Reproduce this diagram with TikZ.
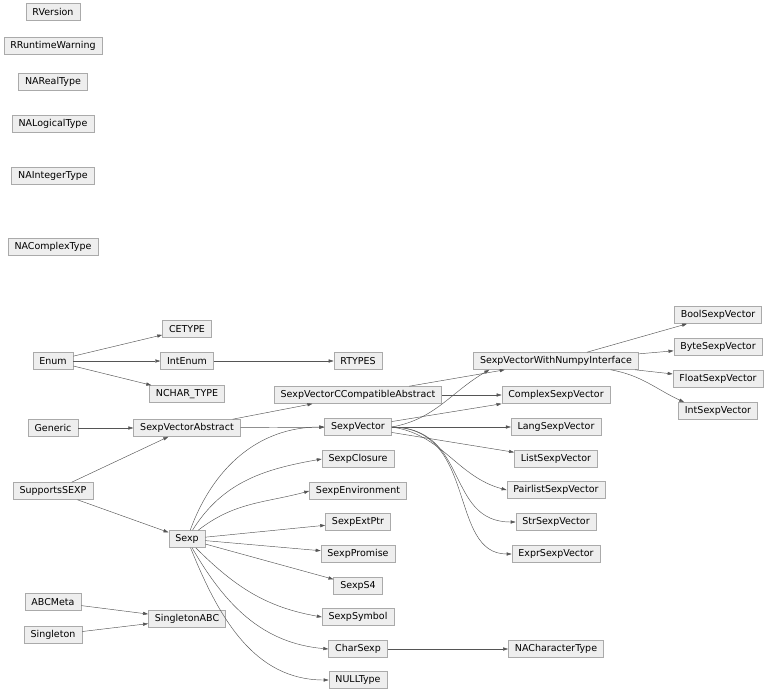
\documentclass[tikz,border=0pt]{standalone}
\usepackage{fontspec}
\setmainfont{DejaVu Sans}
\usetikzlibrary{arrows.meta}
\definecolor{boxfill}{RGB}{238,238,238}
\definecolor{boxline}{RGB}{170,170,170}
\definecolor{edgeline}{RGB}{85,85,85}
\tikzset{%
  cls/.style={draw=boxline,fill=boxfill,line width=0.6pt,inner xsep=6.5pt,
    minimum height=17pt,font=\fontsize{9.5}{11}\selectfont},
  inh/.style={draw=edgeline,line width=0.45pt,
    -{Triangle[length=5pt,width=3.2pt]}},
}
\begin{document}
\begin{tikzpicture}[x=1pt,y=-1pt]
  \useasboundingbox (0,0) rectangle (768,693);
  % classes, placed at the layout coordinates
  \foreach \cls/\x/\y in {RVersion/53/12, RRuntimeWarning/53/46,
    NARealType/53/82, NALogicalType/53/124, NAIntegerType/53/176,
    NAComplexType/53/247, Enum/53/361, Generic/53/428, SupportsSEXP/53/491,
    ABCMeta/53/602, Singleton/53/635,
    CETYPE/187/329, IntEnum/187/361, SexpVectorAbstract/187/428,
    Sexp/187/539, SingletonABC/187/619,
    RTYPES/358/361, SexpVectorCCompatibleAbstract/358/395,
    SexpVector/358/427, SexpClosure/358/459, SexpEnvironment/358/491,
    SexpExtPtr/358/522, SexpPromise/358/554, SexpS4/358/586,
    SexpSymbol/358/617, CharSexp/358/649, NULLType/358/680,
    SexpVectorWithNumpyInterface/556/361, ComplexSexpVector/556/395,
    LangSexpVector/556/427, ListSexpVector/556/459,
    PairlistSexpVector/556/490, StrSexpVector/556/522,
    ExprSexpVector/556/554, NACharacterType/556/649,
    BoolSexpVector/718/315, ByteSexpVector/718/347,
    FloatSexpVector/718/379, IntSexpVector/718/411}
    \node[cls] (\cls) at (\x,\y) {\cls};
  \node[cls] (NCHARTYPE) at (187,394) {NCHAR\_TYPE};
  % straight edges
  \foreach \a/\b in {Enum/CETYPE, Enum/IntEnum, Enum/NCHARTYPE,
    IntEnum/RTYPES, Generic/SexpVectorAbstract,
    SupportsSEXP/SexpVectorAbstract, SupportsSEXP/Sexp,
    SexpVectorAbstract/SexpVectorCCompatibleAbstract,
    SexpVectorAbstract/SexpVector,
    SexpVectorCCompatibleAbstract/SexpVectorWithNumpyInterface,
    SexpVectorCCompatibleAbstract/ComplexSexpVector,
    SexpVector/ComplexSexpVector, SexpVector/LangSexpVector,
    SexpVector/ListSexpVector,
    SexpVectorWithNumpyInterface/BoolSexpVector,
    SexpVectorWithNumpyInterface/ByteSexpVector,
    SexpVectorWithNumpyInterface/FloatSexpVector,
    Sexp/SexpExtPtr, Sexp/SexpPromise, Sexp/SexpS4,
    ABCMeta/SingletonABC, Singleton/SingletonABC,
    CharSexp/NACharacterType}
    \draw[inh] (\a) -- (\b);
  % curved edges
  \draw[inh] (SexpVector.east) to[out=10,in=-150]
    ([xshift=16pt]SexpVectorWithNumpyInterface.south west);
  \draw[inh] ([xshift=-28pt]SexpVectorWithNumpyInterface.south east)
    to[out=-10,in=155] ([xshift=6pt]IntSexpVector.north west);
  \draw[inh] (SexpVector.east) to[out=-8,in=165] (PairlistSexpVector.west);
  \draw[inh] (SexpVector.east) .. controls (470,428) and (445,522) .. (StrSexpVector.west);
  \draw[inh] (SexpVector.east) .. controls (478,428) and (448,554) .. (ExprSexpVector.west);
  \draw[inh] (Sexp) to[out=70,in=180] (SexpVector.west);
  \draw[inh] (Sexp) to[out=58,in=190] (SexpClosure.west);
  \draw[inh] (Sexp) to[out=38,in=195] (SexpEnvironment.west);
  \draw[inh] (Sexp) to[out=-45,in=170] (SexpSymbol.west);
  \draw[inh] (Sexp) to[out=-60,in=175] (CharSexp.west);
  \draw[inh] (Sexp) to[out=-68,in=180] (NULLType.west);
\end{tikzpicture}
\end{document}
